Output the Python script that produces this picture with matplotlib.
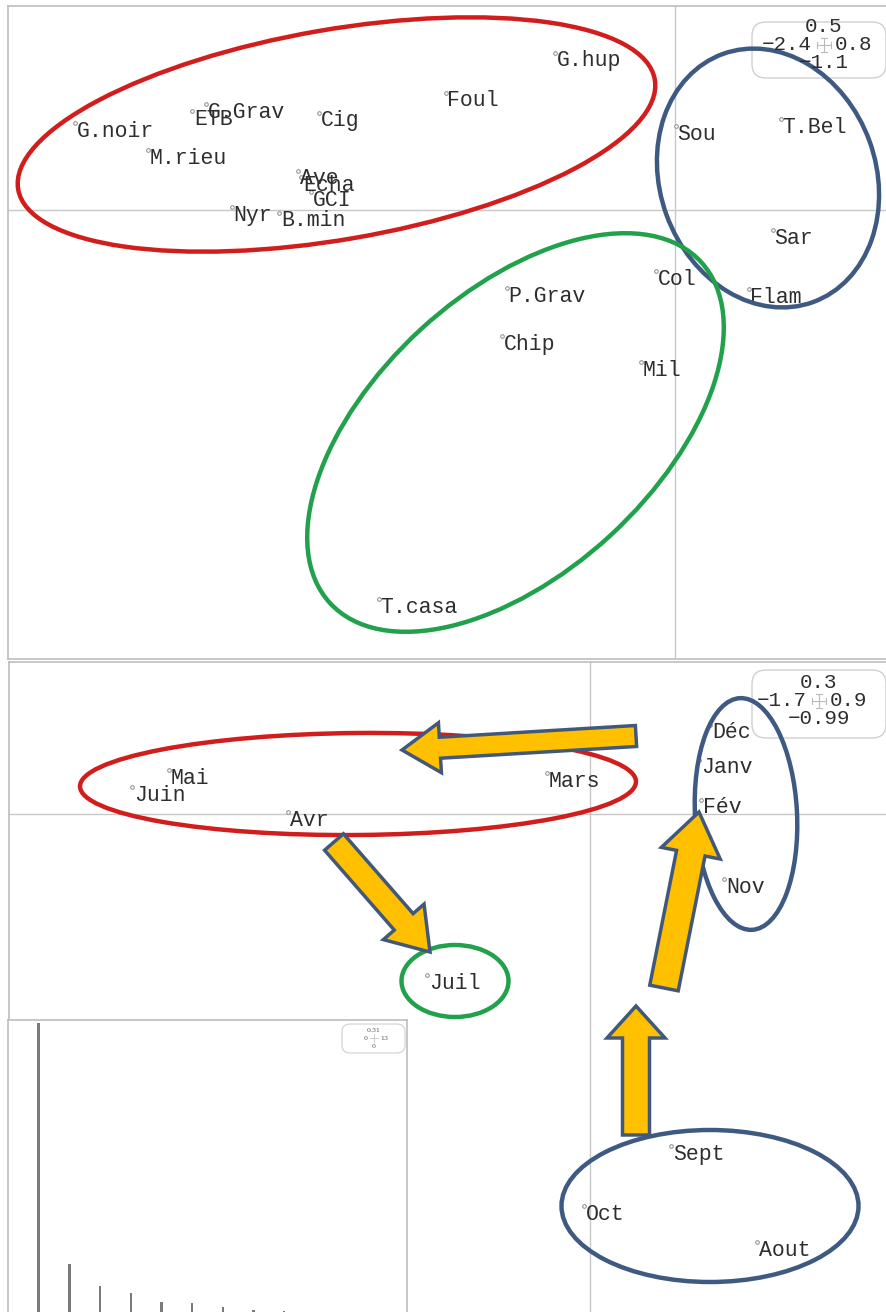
import matplotlib
matplotlib.use('Agg')
import matplotlib.pyplot as plt
from matplotlib.patches import Ellipse, FancyArrow, FancyBboxPatch

# species scores (top panel)
species = ['G.hup', 'Foul', 'G.noir', 'G.Grav', 'ETB', 'Cig', 'M.rieu', 'Ave', 'Echa',
           'GCI', 'Nyr', 'B.min', 'Sou', 'T.Bel', 'Sar', 'Col', 'Flam', 'P.Grav',
           'Chip', 'Mil', 'T.casa']
sp_x = [-0.432, -0.824, -2.158, -1.687, -1.737, -1.281, -1.896, -1.356, -1.345,
        -1.309, -1.594, -1.424, 0.004, 0.381, 0.353, -0.068, 0.266, -0.604,
        -0.622, -0.122, -1.065]
sp_y = [0.385, 0.287, 0.213, 0.260, 0.242, 0.238, 0.147, 0.096, 0.081,
        0.044, 0.007, -0.007, 0.206, 0.223, -0.049, -0.150, -0.194, -0.191,
        -0.309, -0.373, -0.953]

# month scores (bottom panel)
months = ['Mai', 'Juin', 'Mars', 'Avr', 'Déc', 'Janv', 'Fév', 'Nov', 'Juil',
          'Sept', 'Oct', 'Aout']
mo_x = [-1.231, -1.339, -0.126, -0.883, 0.351, 0.319, 0.325, 0.392, -0.476,
        0.237, -0.018, 0.488]
mo_y = [0.087, 0.053, 0.081, 0.004, 0.176, 0.107, 0.028, -0.128, -0.318,
        -0.655, -0.773, -0.844]

# eigenvalues
eig = [0.307, 0.054, 0.031, 0.024, 0.015, 0.014, 0.0094, 0.006, 0.005, 0.003, 0.002]

W, H = 887, 1312
fig = plt.figure(figsize=(W / 100, H / 100), dpi=100)
fig.patch.set_facecolor('white')

mono = 'Liberation Mono'
txtcol = '#2e2e2e'
framecol = '#bdbdbd'


def px_axes(x0, x1, y0, y1):
    # axes placed with pixel edges (y from top)
    return fig.add_axes([x0 / W, (H - y1) / H, (x1 - x0) / W, (y1 - y0) / H])


def label_panel(ax, xs, ys, names, xlim, ylim):
    ax.set_xlim(*xlim)
    ax.set_ylim(*ylim)
    ax.axhline(0, color='#c8c8c8', lw=1, zorder=1)
    ax.axvline(0, color='#c8c8c8', lw=1, zorder=1)
    ax.plot(xs, ys, 'o', ms=2.6, mfc='white', mec='#8a8a8a', mew=0.7, zorder=2)
    for x, y, n in zip(xs, ys, names):
        ax.annotate(n, (x, y), xytext=(1.2, -5.8), textcoords='offset points',
                    ha='left', va='center', fontsize=15.5, family=mono,
                    color=txtcol, zorder=3)
    ax.set_xticks([])
    ax.set_yticks([])
    for s in ax.spines.values():
        s.set_color(framecol)
        s.set_linewidth(1.2)


ax1 = px_axes(8, 897, 6, 659)
label_panel(ax1, sp_x, sp_y, species, (-2.4, 0.8), (-1.1, 0.5))

ax2 = px_axes(8.6, 898, 662, 1316)
label_panel(ax2, mo_x, mo_y, months, (-1.7, 0.9), (-0.99, 0.3))

ax3 = px_axes(8, 407, 1020, 1316)
ax3.set_facecolor('white')
ax3.bar(range(1, len(eig) + 1), eig, width=0.08, color='#7a7a7a')
ax3.set_xlim(0, 13)
ax3.set_ylim(0, 0.31)
ax3.set_xticks([])
ax3.set_yticks([])
for s in ax3.spines.values():
    s.set_color(framecol)
    s.set_linewidth(1.2)

# overlay in pixel coordinates for hand-drawn annotations
ov = fig.add_axes([0, 0, 1, 1], facecolor='none')
ov.set_xlim(0, W)
ov.set_ylim(H, 0)
ov.axis('off')


def scale_box(x0, y0, x1, y1, top, left, right, bottom, cx, cy, fs):
    ov.add_patch(FancyBboxPatch((x0, y0), x1 - x0, y1 - y0,
                                boxstyle='round,pad=0,rounding_size=14',
                                fc='white', ec='#d0d0d0', lw=1, zorder=1))
    kw = dict(family=mono, fontsize=fs, color=txtcol, va='center', zorder=6)
    ov.text(cx, cy - 18, top, ha='center', **kw)
    ov.text(cx - 12, cy, left, ha='right', **kw)
    ov.text(cx + 11, cy, right, ha='left', **kw)
    ov.text(cx, cy + 18, bottom, ha='center', **kw)
    ov.plot([cx - 7, cx + 7], [cy, cy], color='#bbbbbb', lw=0.8, zorder=2)
    ov.plot([cx, cx], [cy - 7, cy + 7], color='#bbbbbb', lw=0.8, zorder=2)
    for d in (-7, 7):
        ov.plot([cx + d, cx + d], [cy - 3, cy + 3], color='#bbbbbb', lw=0.8, zorder=2)
        ov.plot([cx - 3, cx + 3], [cy + d, cy + d], color='#bbbbbb', lw=0.8, zorder=2)


scale_box(752, 22, 886, 78, '0.5', '−2.4', '0.8', '−1.1', 824, 45, 15)
scale_box(752, 670, 886, 738, '0.3', '−1.7', '0.9', '−0.99', 819, 701, 15)

ov.add_patch(FancyBboxPatch((342, 1024), 63, 29, boxstyle='round,pad=0,rounding_size=8',
                            fc='white', ec='#d0d0d0', lw=0.8))
ov.text(374, 1030, '0.31', ha='center', va='center', fontsize=4.5, family='serif', color='#555555')
ov.text(368, 1038, '0', ha='right', va='center', fontsize=4.5, family='serif', color='#555555')
ov.text(380, 1038, '13', ha='left', va='center', fontsize=4.5, family='serif', color='#555555')
ov.text(374, 1046, '0', ha='center', va='center', fontsize=4.5, family='serif', color='#555555')
ov.plot([370, 378], [1038, 1038], color='#bbbbbb', lw=0.5)
ov.plot([374, 374], [1034, 1042], color='#bbbbbb', lw=0.5)

red, blue, green = '#d21d1d', '#3f5a82', '#22a14c'
ellipses = [
    ((336.5, 134.5), 646, 210, -9.8, red),
    ((768, 178), 216, 264, -20, blue),
    ((515.5, 432.5), 504, 280, -42.6, green),
    ((358, 784), 556, 102, -0.5, red),
    ((746, 814), 102, 232, -3, blue),
    ((455, 981), 107, 72, 0, green),
    ((710, 1206), 297, 152, 0, blue),
]
for c, w, h, a, col in ellipses:
    ov.add_patch(Ellipse(c, w, h, angle=a, fill=False, ec=col, lw=3.2, zorder=3))

arrows = [
    (636, 736, -234, 14, 21, 50, 38),
    (334, 842, 96, 110, 25, 54, 40),
    (636, 1135, 0, -129, 27, 58, 32),
    (664, 988, 35, -176, 29, 60, 42),
]
for x, y, dx, dy, wd, hw, hl in arrows:
    ov.add_patch(FancyArrow(x, y, dx, dy, width=wd, head_width=hw, head_length=hl,
                            length_includes_head=True, fc='#ffc000', ec='#41587a',
                            lw=2.5, zorder=5))

fig.savefig('out.png', dpi=100)
